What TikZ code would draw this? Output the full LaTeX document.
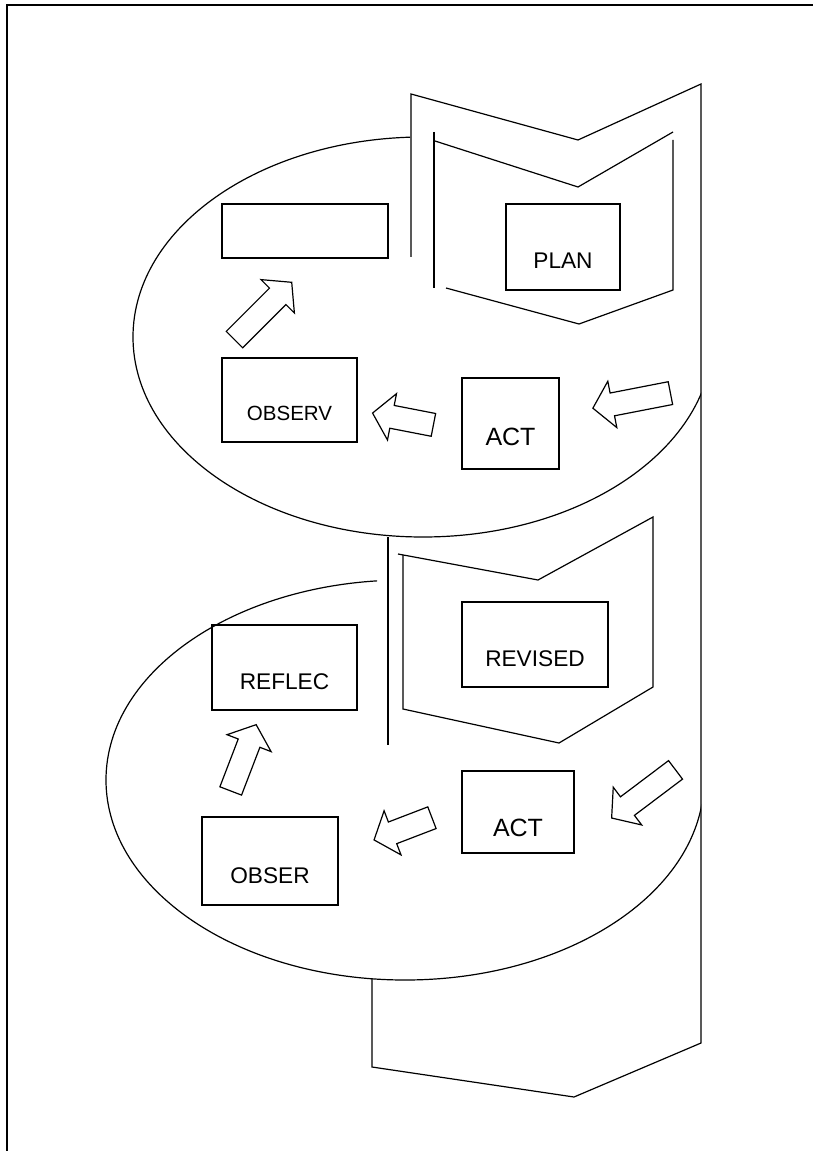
\documentclass[tikz,border=0pt]{standalone}
\usepackage{fontspec}
\setmainfont{Liberation Sans}
\usetikzlibrary{shapes.arrows}

\begin{document}
\begin{tikzpicture}[x=0.75pt,y=0.75pt,line width=0.9pt,
  box/.style={draw,inner sep=0pt,text height=33pt,text depth=0pt,
              font=\fontsize{17}{20}\selectfont},
  blockarr/.style={draw,single arrow,single arrow head extend=9pt,
              single arrow tip angle=100,inner xsep=0pt,inner ysep=8.25pt,
              anchor=tail,minimum height=#1}]
  \useasboundingbox (0,0) rectangle (813,-1151);
  \draw[line width=1.4pt] (7,-1151) -- (7,-5) -- (813,-5);

  \draw (411,-257) -- (411,-94) -- (578,-140) -- (701,-84) -- (701,-1043)
        -- (574,-1097) -- (372,-1067) -- (372,-979);
  \draw (388,-537) -- (388,-745);
  \draw (434,-132) -- (434,-288);
  \draw (435,-141) -- (578,-187) -- (673,-132);
  \draw (673,-140) -- (673,-290) -- (579,-324) -- (446,-288);
  \draw (398,-554) -- (538,-580) -- (653,-517) -- (653,-687) -- (559,-743)
        -- (403,-709) -- (403,-555);

  \begin{scope}
    \clip (0,0) -- (410,0) -- (410,-337) -- (701,-337) -- (701,-1151) -- (0,-1151) -- cycle;
    \draw (423,-337) ellipse [x radius=217.5pt,y radius=150pt];
  \end{scope}
  \begin{scope}
    \clip (0,0) -- (377,0) -- (377,-780) -- (701,-780) -- (701,-1151) -- (0,-1151) -- cycle;
    \draw (405,-780) ellipse [x radius=224.25pt,y radius=150pt];
  \end{scope}

  \node[box,minimum width=124.5pt,minimum height=40.5pt] (blank) at (305,-231) {};
  \node[box,minimum width=85.5pt,minimum height=64.5pt] (plan) at (563,-247) {PLAN};
  \node[box,minimum width=72.75pt,minimum height=68.25pt,
        font=\fontsize{18.75}{22}\selectfont] (act1) at (510.5,-423.5) {ACT};
  \node[box,minimum width=101.25pt,minimum height=63pt,text height=30pt,
        font=\fontsize{15.4}{18}\selectfont] (observ) at (289.5,-400) {OBSERV};
  \node[box,minimum width=109.5pt,minimum height=63.75pt] (revised) at (535,-644.5) {REVISED};
  \node[box,minimum width=108.75pt,minimum height=63.75pt] (reflec) at (284.5,-667.5) {REFLEC};
  \node[box,minimum width=84pt,minimum height=61.5pt,text height=37pt,
        font=\fontsize{18.75}{22}\selectfont] (act2) at (518,-812) {ACT};
  \node[box,minimum width=102pt,minimum height=66pt] (obser) at (270,-861) {OBSER};

  \node[blockarr=60.75pt,rotate=45] (a1) at (234,-340) {};
  \node[blockarr=46.5pt,rotate=169] (a2) at (434,-425) {};
  \node[blockarr=59.25pt,rotate=191] (a3) at (671,-393) {};
  \node[blockarr=53.25pt,rotate=69] (b1) at (230.5,-791.5) {};
  \node[blockarr=46.5pt,rotate=201] (b2) at (432.5,-817.5) {};
  \node[blockarr=60pt,rotate=217] (b3) at (676,-769.5) {};
\end{tikzpicture}
\end{document}
